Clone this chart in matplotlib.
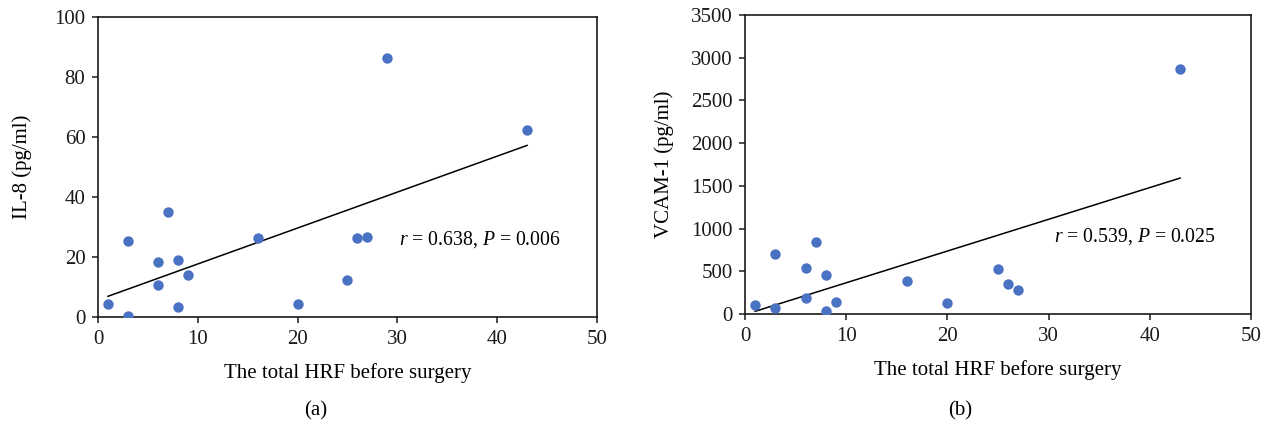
import matplotlib
matplotlib.use("Agg")
import matplotlib.pyplot as plt

# ---- data ----
hrf = [1, 3, 3, 6, 6, 7, 8, 8, 9, 16, 20, 25, 26, 27, 29, 43]
il8 = [4.2, 0.3, 25.5, 18.4, 10.8, 35.1, 18.9, 3.3, 14.0, 26.5, 4.2, 12.2, 26.2, 26.7, 86.4, 62.2]

hrf_b = [1, 3, 3, 6, 6, 7, 8, 8, 9, 16, 20, 25, 26, 27, 43]
vcam = [106, 74, 701, 541, 192, 839, 455, 35, 145, 388, 129, 521, 349, 282, 2872]

fit_a_x = [1, 43]
fit_a_y = [6.9, 57.2]
fit_b_x = [1, 43]
fit_b_y = [31, 1591]

xticks = [0, 10, 20, 30, 40, 50]
yticks_a = [0, 20, 40, 60, 80, 100]
yticks_b = [0, 500, 1000, 1500, 2000, 2500, 3000, 3500]

xlabel = "The total HRF before surgery"
ylabel_a = "IL-8 (pg/ml)"
ylabel_b = "VCAM-1 (pg/ml)"
stat_a = r"$r$ = 0.638, $P$ = 0.006"
stat_b = r"$r$ = 0.539, $P$ = 0.025"

plt.rcParams["font.family"] = ["Liberation Serif", "DejaVu Serif"]
plt.rcParams["mathtext.fontset"] = "custom"
plt.rcParams["mathtext.rm"] = "Liberation Serif"
plt.rcParams["mathtext.it"] = "Liberation Serif:italic"

fig = plt.figure(figsize=(12.79, 4.28), dpi=100)
ax1 = fig.add_axes([0.0766, 0.2593, 0.3901, 0.7010])
ax2 = fig.add_axes([0.5825, 0.2664, 0.3956, 0.6986])

col = "#4a72c2"
fs = 15

def style(ax, yticks, ylim):
    ax.set_xlim(0, 50)
    ax.set_ylim(*ylim)
    ax.set_xticks(xticks)
    ax.set_yticks(yticks)
    for s in ax.spines.values():
        s.set_linewidth(1.2)
        s.set_color("#1a1a1a")
    ax.tick_params(direction="out", length=4, width=1.1, labelsize=fs, colors="#1a1a1a")
    ax.tick_params(axis="x", pad=5.5)
    ax.tick_params(axis="y", pad=5)
    ax.set_xlabel(xlabel, fontsize=fs, labelpad=10)

ax1.scatter(hrf, il8, s=56, color=col, zorder=3, linewidths=0)
ax1.plot(fit_a_x, fit_a_y, color="black", lw=1.1)
style(ax1, yticks_a, (0, 100))
ax1.set_ylabel(ylabel_a, fontsize=fs, labelpad=16)
ax1.text(30.2, 24.2, stat_a, fontsize=14.2, va="baseline", ha="left")

ax2.scatter(hrf_b, vcam, s=56, color=col, zorder=3, linewidths=0)
ax2.plot(fit_b_x, fit_b_y, color="black", lw=1.1)
style(ax2, yticks_b, (0, 3500))
ax2.set_ylabel(ylabel_b, fontsize=fs, labelpad=12)
ax2.text(30.5, 846, stat_b, fontsize=14.2, va="baseline", ha="left")

fig.text(316 / 1279, 1 - 411 / 428, "(a)", fontsize=fs, ha="center", va="center")
fig.text(960 / 1279, 1 - 411 / 428, "(b)", fontsize=fs, ha="center", va="center")

fig.savefig("out.png", dpi=100)
